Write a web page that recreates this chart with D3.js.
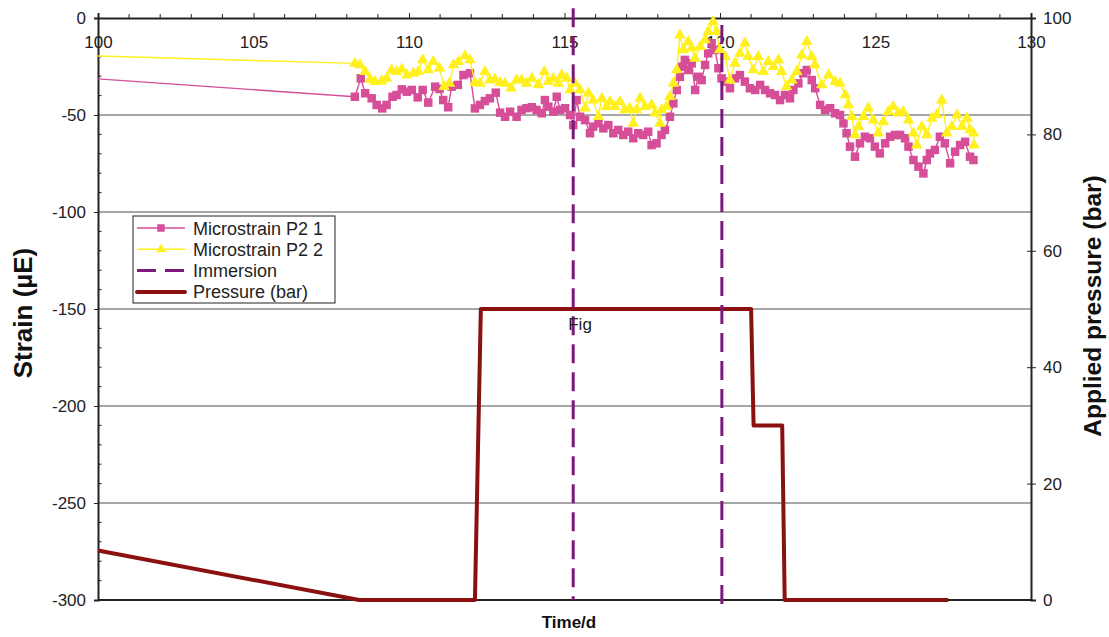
<!DOCTYPE html>
<html>
  <head>
    <script src="https://d3js.org/d3.v7.min.js"></script>
    <style>
      body { margin: 0; background: #fff; font-family: "Liberation Sans", Arial, sans-serif; }
      .tick-label { font-size: 17px; fill: #222; }
      .axis-title { font-size: 22px; font-weight: bold; fill: #111; }
    </style>
  </head>
  <body>
    <div id="graph"></div>
  </body>
  <script>

    // Microstrain P2 1 (pink squares)
    var p1Days = [100, 108.26, 108.45, 108.59, 108.80, 108.96, 109.14, 109.28, 109.47, 109.60, 109.77, 109.93, 110.09, 110.28, 110.44, 110.62, 110.84, 110.98, 111.10, 111.26, 111.37, 111.57, 111.75, 111.96, 112.12, 112.28, 112.44, 112.60, 112.79, 112.93, 113.09,
                  113.25, 113.46, 113.62, 113.78, 113.95, 114.10, 114.27, 114.37, 114.48, 114.64, 114.75, 114.86, 115.02, 115.18, 115.28, 115.39, 115.50, 115.66, 115.82, 115.92, 116.09, 116.25, 116.41, 116.57, 116.73, 116.89, 117.05, 117.21, 117.37, 117.53, 117.69, 117.80, 117.96, 118.12,
                  118.23, 118.39, 118.50, 118.61, 118.71, 118.77, 118.87, 118.98, 119.09, 119.20, 119.30, 119.41, 119.52, 119.62, 119.73, 119.84, 119.95, 120.05, 120.16, 120.32, 120.48, 120.64, 120.80, 120.96, 121.13, 121.29, 121.45, 121.61, 121.77, 121.93, 122.09, 122.25, 122.36, 122.52, 122.68, 122.79, 122.95, 123.06,
                  123.22, 123.38, 123.54, 123.70, 123.86, 123.97, 124.07, 124.18, 124.34, 124.50, 124.66, 124.82, 124.98, 125.14, 125.31, 125.47, 125.63, 125.79, 125.95, 126.06, 126.22, 126.38, 126.54, 126.65, 126.75, 126.91, 127.07, 127.23, 127.40, 127.56, 127.72, 127.88, 128.04, 128.15];
    var p1Strain = [-31.4, -40.6, -31.1, -38.8, -41.4, -44.8, -46.6, -44.8, -40.6, -39.7, -36.8, -38.0, -37.1, -40.9, -37.1, -43.6, -35.4, -36.6, -42.3, -46.0, -35.4, -34.5, -29.4, -28.5, -46.6, -44.8, -42.8, -41.4, -38.5, -48.8, -50.9,
                    -48.3, -50.9, -47.4, -46.5, -46.0, -47.4, -49.1, -42.3, -45.7, -48.3, -40.6, -47.4, -46.5, -50.0, -55.2, -42.3, -50.9, -52.6, -59.4, -56.0, -54.3, -56.9, -55.2, -59.4, -57.7, -60.3, -58.6, -62.0, -59.4, -60.3, -58.6, -65.5, -64.6, -60.3,
                    -57.7, -50.9, -44.0, -37.1, -30.3, -25.1, -21.6, -26.8, -23.4, -37.1, -30.3, -32.0, -24.2, -18.2, -13.0, -16.5, -25.9, -31.1, -32.8, -36.2, -31.1, -29.4, -32.8, -36.2, -37.1, -34.5, -37.1, -38.8, -39.7, -42.3, -39.7, -41.4, -37.1, -33.7, -28.5, -26.8, -32.0, -36.2,
                    -44.8, -47.4, -46.5, -49.1, -50.0, -54.3, -59.4, -66.3, -71.5, -64.6, -61.2, -62.0, -66.3, -69.8, -64.6, -61.2, -60.3, -60.3, -62.0, -66.3, -73.2, -76.6, -80.1, -73.2, -69.8, -68.0, -61.2, -64.6, -74.9, -68.9, -65.5, -63.8, -71.5, -73.2];

    // Microstrain P2 2 (yellow triangles)
    var p2Days = [100, 108.26, 108.42, 108.59, 108.75, 108.91, 109.12, 109.28, 109.44, 109.60, 109.77, 109.93, 110.14, 110.30, 110.44, 110.62, 110.78, 110.98, 111.13, 111.30, 111.43, 111.59, 111.80, 111.96, 112.12, 112.28, 112.44, 112.60, 112.76, 112.93, 113.09,
                  113.28, 113.46, 113.62, 113.78, 113.95, 114.16, 114.35, 114.48, 114.64, 114.80, 114.91, 115.07, 115.18, 115.34, 115.50, 115.66, 115.77, 115.92, 116.09, 116.20, 116.36, 116.46, 116.62, 116.78, 116.94, 117.10, 117.21, 117.32, 117.43, 117.59, 117.80, 117.91, 118.07,
                  118.12, 118.28, 118.39, 118.50, 118.61, 118.71, 118.82, 118.98, 119.09, 119.20, 119.36, 119.52, 119.62, 119.78, 119.89, 119.99, 120.16, 120.32, 120.48, 120.64, 120.80, 120.91, 121.07, 121.23, 121.39, 121.55, 121.72, 121.88, 121.98, 122.14, 122.31, 122.47, 122.63, 122.79, 122.95, 123.05,
                  123.27, 123.49, 123.70, 123.86, 124.03, 124.13, 124.24, 124.34, 124.45, 124.61, 124.77, 124.93, 125.09, 125.25, 125.41, 125.57, 125.73, 125.89, 126.06, 126.22, 126.33, 126.49, 126.65, 126.81, 126.97, 127.13, 127.29, 127.45, 127.62, 127.78, 127.94, 128.04, 128.15, 128.17];
    var p2Strain = [-19.6, -23.4, -24.2, -27.7, -31.6, -32.8, -32.5, -31.1, -26.8, -27.7, -26.4, -29.4, -28.5, -27.7, -21.6, -26.8, -22.5, -25.9, -35.4, -33.7, -24.2, -22.5, -19.6, -21.6, -33.3, -33.7, -27.7, -32.0, -31.6, -33.3, -33.7,
                    -36.2, -32.0, -32.0, -33.7, -31.1, -34.5, -27.7, -32.8, -31.1, -33.7, -29.4, -31.1, -37.1, -33.7, -37.1, -46.5, -38.8, -42.3, -50.9, -41.4, -45.7, -43.1, -45.7, -43.1, -47.4, -46.5, -54.3, -47.4, -41.4, -45.7, -44.8, -49.1, -54.3,
                    -47.4, -45.7, -40.6, -33.7, -26.8, -8.8, -16.5, -12.2, -15.6, -20.8, -14.8, -11.3, -7.1, -1.9, -7.1, -16.5, -19.9, -32.0, -23.4, -18.2, -13.0, -19.9, -26.8, -19.9, -27.7, -22.5, -25.1, -21.6, -27.7, -35.4, -32.0, -27.7, -19.1, -12.2, -19.9, -24.2,
                    -34.5, -29.4, -32.8, -33.7, -39.7, -44.8, -50.9, -60.3, -56.0, -50.9, -46.5, -52.6, -59.4, -53.5, -48.3, -45.7, -49.1, -48.3, -52.6, -59.4, -65.5, -56.0, -60.3, -51.7, -50.0, -42.3, -59.4, -56.0, -50.0, -56.0, -51.7, -57.7, -59.4, -65.5];

    // applied pressure (bar), right axis
    var pressureDays = [100, 108.4, 112.12, 112.31, 121.0, 121.08, 122.0, 122.08, 127.34];
    var pressureBar = [8.5, 0, 0, 50, 50, 30, 30, 0, 0];

    // immersion markers
    var immersionDays = [115.28, 120.06];
    var immersionTop = [5, -3.6];
    var immersionBottom = [-300, -302.6];

    var xTicks = [100, 105, 110, 115, 120, 125, 130];
    var strainTicks = [0, -50, -100, -150, -200, -250, -300];
    var pressureTicks = [0, 20, 40, 60, 80, 100];

    var legendItems = ["Microstrain P2 1", "Microstrain P2 2", "Immersion", "Pressure (bar)"];

    var pink = "#d64d98", yellow = "#fff01e", purple = "#7b1a7b", darkRed = "#8b1111";

    var W = 1109, H = 637;
    var margin = {top: 18, right: 78, bottom: 37, left: 98};
    var width = W - margin.left - margin.right,
        height = H - margin.top - margin.bottom;

    var svg = d3.select("#graph")
                .append("svg")
                  .attr("width", W)
                  .attr("height", H)
                .append("g")
                  .attr("transform", "translate(" + margin.left + "," + margin.top + ")");

    var x = d3.scaleLinear().domain([100, 130]).range([0, width]);
    var y = d3.scaleLinear().domain([-300, 0]).range([height, 0]);
    var yR = d3.scaleLinear().domain([0, 100]).range([height, 0]);

    // gridlines
    svg.selectAll(".grid")
       .data(strainTicks.filter(d => d < 0 && d > -300))
       .enter().append("line")
         .attr("x1", 0).attr("x2", width)
         .attr("y1", d => y(d)).attr("y2", d => y(d))
         .attr("stroke", "#888")
         .attr("stroke-width", 1.5);

    // left axis: major ticks outside, minor ticks inside
    var yAxis = svg.append("g")
                   .call(d3.axisLeft(y).tickValues(strainTicks).tickSize(4).tickPadding(8).tickFormat(d => String(d)));
    yAxis.select(".domain").attr("stroke", "#222").attr("stroke-width", 2);
    yAxis.selectAll(".tick line").attr("stroke", "#222");
    yAxis.selectAll(".tick text").attr("class", "tick-label").attr("font-size", null).attr("font-family", null);

    var minorStrain = d3.range(-290, 0, 10).filter(d => d % 50 !== 0);
    svg.selectAll(".minorY")
       .data(minorStrain)
       .enter().append("line")
         .attr("x1", 0).attr("x2", 3.5)
         .attr("y1", d => y(d)).attr("y2", d => y(d))
         .attr("stroke", "#222");

    // top axis, ticks upward, labels below the line
    var xAxis = svg.append("g")
                   .call(d3.axisTop(x).tickValues(xTicks).tickSize(5).tickFormat(d => String(d)));
    xAxis.select(".domain").attr("stroke", "#222").attr("stroke-width", 2);
    xAxis.selectAll(".tick line").attr("stroke", "#222");
    xAxis.selectAll(".tick text")
         .attr("class", "tick-label").attr("font-size", null).attr("font-family", null)
         .attr("y", 30).attr("dy", 0);

    var minorDays = d3.range(101, 130, 1).filter(d => d % 5 !== 0);
    svg.selectAll(".minorX")
       .data(minorDays)
       .enter().append("line")
         .attr("x1", d => x(d)).attr("x2", d => x(d))
         .attr("y1", 0).attr("y2", -4)
         .attr("stroke", "#222");

    // bottom line
    svg.append("line")
       .attr("x1", 0).attr("x2", width)
       .attr("y1", height).attr("y2", height)
       .attr("stroke", "#222").attr("stroke-width", 2);

    // right axis
    var rAxis = svg.append("g")
                   .attr("transform", "translate(" + width + ",0)")
                   .call(d3.axisRight(yR).tickValues(pressureTicks).tickSize(5).tickPadding(7));
    rAxis.select(".domain").attr("stroke", "#222").attr("stroke-width", 2);
    rAxis.selectAll(".tick line").attr("stroke", "#222").attr("x1", -4);
    rAxis.selectAll(".tick text").attr("class", "tick-label").attr("font-size", null).attr("font-family", null);

    // strain series
    var p1 = p1Days.map((d, i) => [d, p1Strain[i]]);
    var p2 = p2Days.map((d, i) => [d, p2Strain[i]]);
    var strainLine = d3.line().x(d => x(d[0])).y(d => y(d[1]));

    svg.append("path")
       .datum(p1)
       .attr("fill", "none")
       .attr("stroke", pink)
       .attr("stroke-width", 1.4)
       .attr("d", strainLine);

    svg.selectAll(".sq")
       .data(p1.slice(1))
       .enter().append("path")
         .attr("transform", d => "translate(" + x(d[0]) + "," + y(d[1]) + ")")
         .attr("d", d3.symbol().type(d3.symbolSquare).size(72))
         .attr("fill", pink);

    svg.append("path")
       .datum(p2)
       .attr("fill", "none")
       .attr("stroke", yellow)
       .attr("stroke-width", 1.4)
       .attr("d", strainLine);

    svg.selectAll(".tri")
       .data(p2.slice(1))
       .enter().append("path")
         .attr("transform", d => "translate(" + x(d[0]) + "," + y(d[1]) + ")")
         .attr("d", d3.symbol().type(d3.symbolTriangle).size(58))
         .attr("fill", yellow);

    // pressure
    var pressure = pressureDays.map((d, i) => [d, pressureBar[i]]);
    svg.append("path")
       .datum(pressure)
       .attr("fill", "none")
       .attr("stroke", darkRed)
       .attr("stroke-width", 4)
       .attr("stroke-linejoin", "round")
       .attr("d", d3.line().x(d => x(d[0])).y(d => yR(d[1])));

    // immersion dashed lines
    svg.selectAll(".imm")
       .data(immersionDays)
       .enter().append("line")
         .attr("x1", d => x(d)).attr("x2", d => x(d))
         .attr("y1", (d, i) => y(immersionTop[i]))
         .attr("y2", (d, i) => y(immersionBottom[i]))
         .attr("stroke", purple)
         .attr("stroke-width", 3)
         .attr("stroke-dasharray", "19,9");

    svg.append("text")
       .attr("class", "tick-label")
       .attr("x", x(115.5))
       .attr("y", y(-161))
       .attr("text-anchor", "middle")
       .text("Fig");

    // legend
    var lg = svg.append("g").attr("transform", "translate(" + (133 - margin.left) + "," + (216 - margin.top) + ")");
    lg.append("rect")
      .attr("width", 202).attr("height", 87)
      .attr("fill", "#fff").attr("stroke", "#222").attr("stroke-width", 1);

    var rows = lg.selectAll(".legend")
                 .data(legendItems)
                 .enter().append("g")
                 .attr("transform", (d, i) => "translate(0," + (12 + i * 21.3) + ")");

    rows.append("line")
        .attr("x1", 4).attr("x2", 52)
        .attr("stroke", (d, i) => [pink, yellow, purple, darkRed][i])
        .attr("stroke-width", (d, i) => [1.4, 1.4, 3, 4][i])
        .attr("stroke-dasharray", (d, i) => i === 2 ? "19,9" : null)
        .attr("stroke-linecap", (d, i) => i === 3 ? "round" : null);

    rows.filter((d, i) => i === 0).append("path")
        .attr("transform", "translate(28,0)")
        .attr("d", d3.symbol().type(d3.symbolSquare).size(56))
        .attr("fill", pink);
    rows.filter((d, i) => i === 1).append("path")
        .attr("transform", "translate(28,0)")
        .attr("d", d3.symbol().type(d3.symbolTriangle).size(44))
        .attr("fill", yellow);

    rows.append("text")
        .attr("class", "tick-label")
        .attr("x", 60)
        .attr("y", 6.5)
        .style("font-size", "18px")
        .text(d => d);

    // axis titles
    svg.append("text")
       .attr("class", "axis-title")
       .attr("transform", "translate(" + (32 - margin.left) + "," + (313 - margin.top) + ") rotate(-90)")
       .attr("text-anchor", "middle")
       .style("font-size", "26px")
       .text("Strain (µE)");

    svg.append("text")
       .attr("class", "axis-title")
       .attr("transform", "translate(" + (1101 - margin.left) + "," + (306 - margin.top) + ") rotate(-90)")
       .attr("text-anchor", "middle")
       .style("font-size", "24.5px")
       .text("Applied pressure (bar)");

    svg.append("text")
       .attr("class", "axis-title")
       .attr("x", 569 - margin.left)
       .attr("y", 628 - margin.top)
       .attr("text-anchor", "middle")
       .style("font-size", "17px")
       .text("Time/d");

  </script>
</html>
